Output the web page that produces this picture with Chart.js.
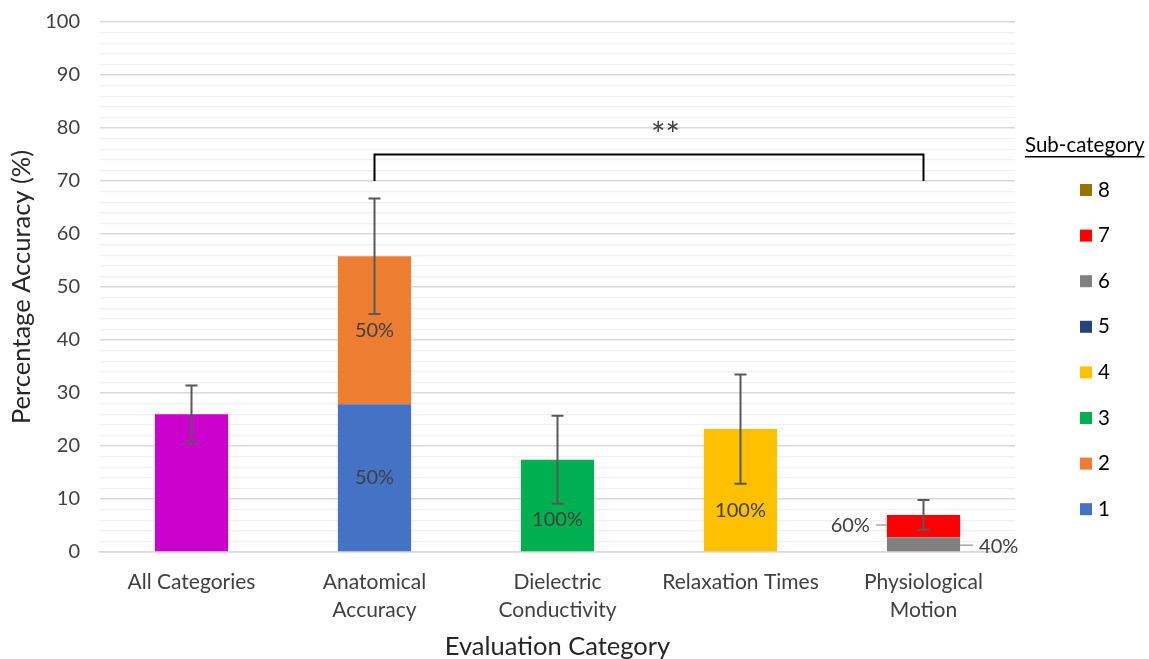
<!DOCTYPE html>
<html>
<head>
<meta charset="utf-8">
<script src="https://cdn.jsdelivr.net/npm/chart.js@4.4.0/dist/chart.umd.min.js"></script>
<style>
  html, body { margin: 0; padding: 0; background: #fff; }
</style>
</head>
<body>
<canvas id="chart" width="1149" height="659"></canvas>
<script>
// categories (multi-line tick labels)
const categories = [
    ['All Categories'],
    ['Anatomical', 'Accuracy'],
    ['Dielectric', 'Conductivity'],
    ['Relaxation Times'],
    ['Physiological', 'Motion']
];

// bar values (percentage accuracy)
const allCategories = [26.0, null, null, null, null];
const sub1 = [null, 27.9, null, null, null];
const sub2 = [null, 27.9, null, null, null];
const sub3 = [null, null, 17.4, null, null];
const sub4 = [null, null, null, 23.2, null];
const sub5 = [null, null, null, null, null];
const sub6 = [null, null, null, null, 2.8];
const sub7 = [null, null, null, null, 4.2];
const sub8 = [null, null, null, null, null];

// error bar half-lengths per category
const errorSize = [5.4, 10.9, 8.3, 10.3, 2.8];

// significance bracket
const bracketFrom = 1;
const bracketTo = 4;
const bracketTop = 75;
const bracketBottom = 70;
const bracketText = '**';

const FONT = 'Lato, "Open Sans", sans-serif';
const TEXT = '#404040';

const subColors = ['#4472C4', '#ED7D31', '#00B050', '#FFC000', '#264478', '#808080', '#FF0000', '#997300'];
const subData = [sub1, sub2, sub3, sub4, sub5, sub6, sub7, sub8];

const datasets = [{
    label: 'All',
    data: allCategories,
    backgroundColor: '#CC00CC',
    stack: 's'
}];
subData.forEach((d, i) => {
    datasets.push({
        label: String(i + 1),
        data: d,
        backgroundColor: subColors[i],
        stack: 's'
    });
});

function barTotal(chart, index) {
    let t = 0;
    chart.data.datasets.forEach(ds => { if (ds.data[index] != null) t += ds.data[index]; });
    return t;
}

const errorBars = {
    id: 'errorBars',
    afterDatasetsDraw(chart) {
        const ctx = chart.ctx;
        const y = chart.scales.y;
        const x = chart.scales.x;
        ctx.save();
        ctx.strokeStyle = '#595959';
        ctx.lineWidth = 2;
        errorSize.forEach((e, i) => {
            const total = barTotal(chart, i);
            const cx = x.getPixelForValue(i);
            const top = y.getPixelForValue(total + e);
            const bot = y.getPixelForValue(total - e);
            ctx.beginPath();
            ctx.moveTo(cx, top); ctx.lineTo(cx, bot);
            ctx.moveTo(cx - 6, top); ctx.lineTo(cx + 6, top);
            ctx.moveTo(cx - 6, bot); ctx.lineTo(cx + 6, bot);
            ctx.stroke();
        });
        ctx.restore();
    }
};

// percentage share labels for sub-category segments
const segLabels = {
    id: 'segLabels',
    afterDatasetsDraw(chart, args, opts) {
        const ctx = chart.ctx;
        ctx.save();
        ctx.font = '20px ' + FONT;
        ctx.fillStyle = TEXT;
        ctx.strokeStyle = '#A6A6A6';
        ctx.lineWidth = 1.5;
        ctx.textBaseline = 'middle';
        const outsideCount = {};
        chart.data.datasets.forEach((ds, di) => {
            if (ds.label === 'All') return;
            const meta = chart.getDatasetMeta(di);
            ds.data.forEach((v, i) => {
                if (v == null) return;
                const el = meta.data[i];
                const total = barTotal(chart, i);
                const txt = Math.round(v / total * 100) + '%';
                const cy = (el.y + el.base) / 2;
                const h = Math.abs(el.base - el.y);
                if (h > 30) {
                    ctx.textAlign = 'center';
                    ctx.fillText(txt, el.x, cy + (opts.nudge[i] || 0));
                } else {
                    const n = outsideCount[i] || 0;
                    outsideCount[i] = n + 1;
                    const half = el.width / 2;
                    ctx.beginPath();
                    if (n === 0) {
                        ctx.moveTo(el.x + half, cy + 1);
                        ctx.lineTo(el.x + half + 13, cy + 1);
                        ctx.stroke();
                        ctx.textAlign = 'left';
                        ctx.fillText(txt, el.x + half + 19, cy + 2);
                    } else {
                        ctx.moveTo(el.x - half, cy - 1);
                        ctx.lineTo(el.x - half - 11, cy - 1);
                        ctx.stroke();
                        ctx.textAlign = 'right';
                        ctx.fillText(txt, el.x - half - 17, cy);
                    }
                }
            });
        });
        ctx.restore();
    }
};

const bracket = {
    id: 'bracket',
    afterDatasetsDraw(chart) {
        const ctx = chart.ctx;
        const x = chart.scales.x, y = chart.scales.y;
        const x1 = x.getPixelForValue(bracketFrom), x2 = x.getPixelForValue(bracketTo);
        const yt = y.getPixelForValue(bracketTop), yb = y.getPixelForValue(bracketBottom);
        ctx.save();
        ctx.strokeStyle = '#000';
        ctx.lineWidth = 2;
        ctx.beginPath();
        ctx.moveTo(x1, yb); ctx.lineTo(x1, yt); ctx.lineTo(x2, yt); ctx.lineTo(x2, yb);
        ctx.stroke();
        ctx.fillStyle = TEXT;
        ctx.font = '34px ' + FONT;
        ctx.textAlign = 'center';
        ctx.textBaseline = 'middle';
        ctx.fillText(bracketText, x.getPixelForValue(2.59), y.getPixelForValue(78.5));
        ctx.restore();
    }
};

const subLegend = {
    id: 'subLegend',
    afterDraw(chart) {
        const ctx = chart.ctx;
        const left = chart.chartArea.right + 10;
        ctx.save();
        ctx.fillStyle = '#000';
        ctx.font = '20.5px ' + FONT;
        ctx.textBaseline = 'middle';
        ctx.textAlign = 'left';
        const title = 'Sub-category';
        ctx.fillText(title, left, 145);
        const w = ctx.measureText(title).width;
        ctx.fillRect(left, 156, w, 1.5);
        const items = chart.data.datasets.filter(ds => ds.label !== 'All').reverse();
        items.forEach((ds, k) => {
            const cy = 190 + k * 45.6;
            ctx.fillStyle = ds.backgroundColor;
            ctx.fillRect(left + 55, cy - 6, 12, 12);
            ctx.fillStyle = '#000';
            ctx.fillText(ds.label, left + 73, cy);
        });
        ctx.restore();
    }
};

new Chart(document.getElementById('chart'), {
    type: 'bar',
    data: { labels: categories, datasets: datasets },
    options: {
        responsive: false,
        devicePixelRatio: 1,
        animation: false,
        layout: { padding: { top: 22, right: 134, left: 0, bottom: 0 } },
        datasets: { bar: { categoryPercentage: 1, barPercentage: 0.4 } },
        plugins: {
            legend: { display: false },
            tooltip: { enabled: false },
            segLabels: { nudge: { 2: 14, 3: 20 } }
        },
        scales: {
            x: {
                stacked: true,
                grid: { display: false },
                border: { display: true, color: '#D9D9D9', width: 1.5 },
                ticks: { color: TEXT, font: { family: FONT, size: 21, lineHeight: 1.35 }, padding: 8, maxRotation: 0 },
                title: { display: true, text: 'Evaluation Category', color: '#262626', font: { family: FONT, size: 25.5 }, padding: { top: 8, bottom: -3 } },
                afterFit(s) { s.height = 107; }
            },
            y: {
                stacked: true,
                min: 0,
                max: 100,
                border: { display: false },
                grid: {
                    drawTicks: true,
                    tickLength: 18,
                    tickColor: 'rgba(0,0,0,0)',
                    color: c => (c.tick && c.tick.value % 10 === 0) ? '#D9D9D9' : '#F0F0F0',
                    lineWidth: c => (c.tick && c.tick.value % 10 === 0) ? 1.5 : 1.2
                },
                ticks: {
                    stepSize: 2,
                    autoSkip: false,
                    padding: 2,
                    color: TEXT,
                    font: { family: FONT, size: 20 },
                    callback: v => (v % 10 === 0 ? v : '')
                },
                title: { display: true, text: 'Percentage Accuracy (%)', color: '#262626', font: { family: FONT, size: 25.5 }, padding: { top: 6, bottom: 4 } },
                afterFit(s) { s.width = 100; }
            }
        }
    },
    plugins: [errorBars, segLabels, bracket, subLegend]
});
</script>
</body>
</html>
